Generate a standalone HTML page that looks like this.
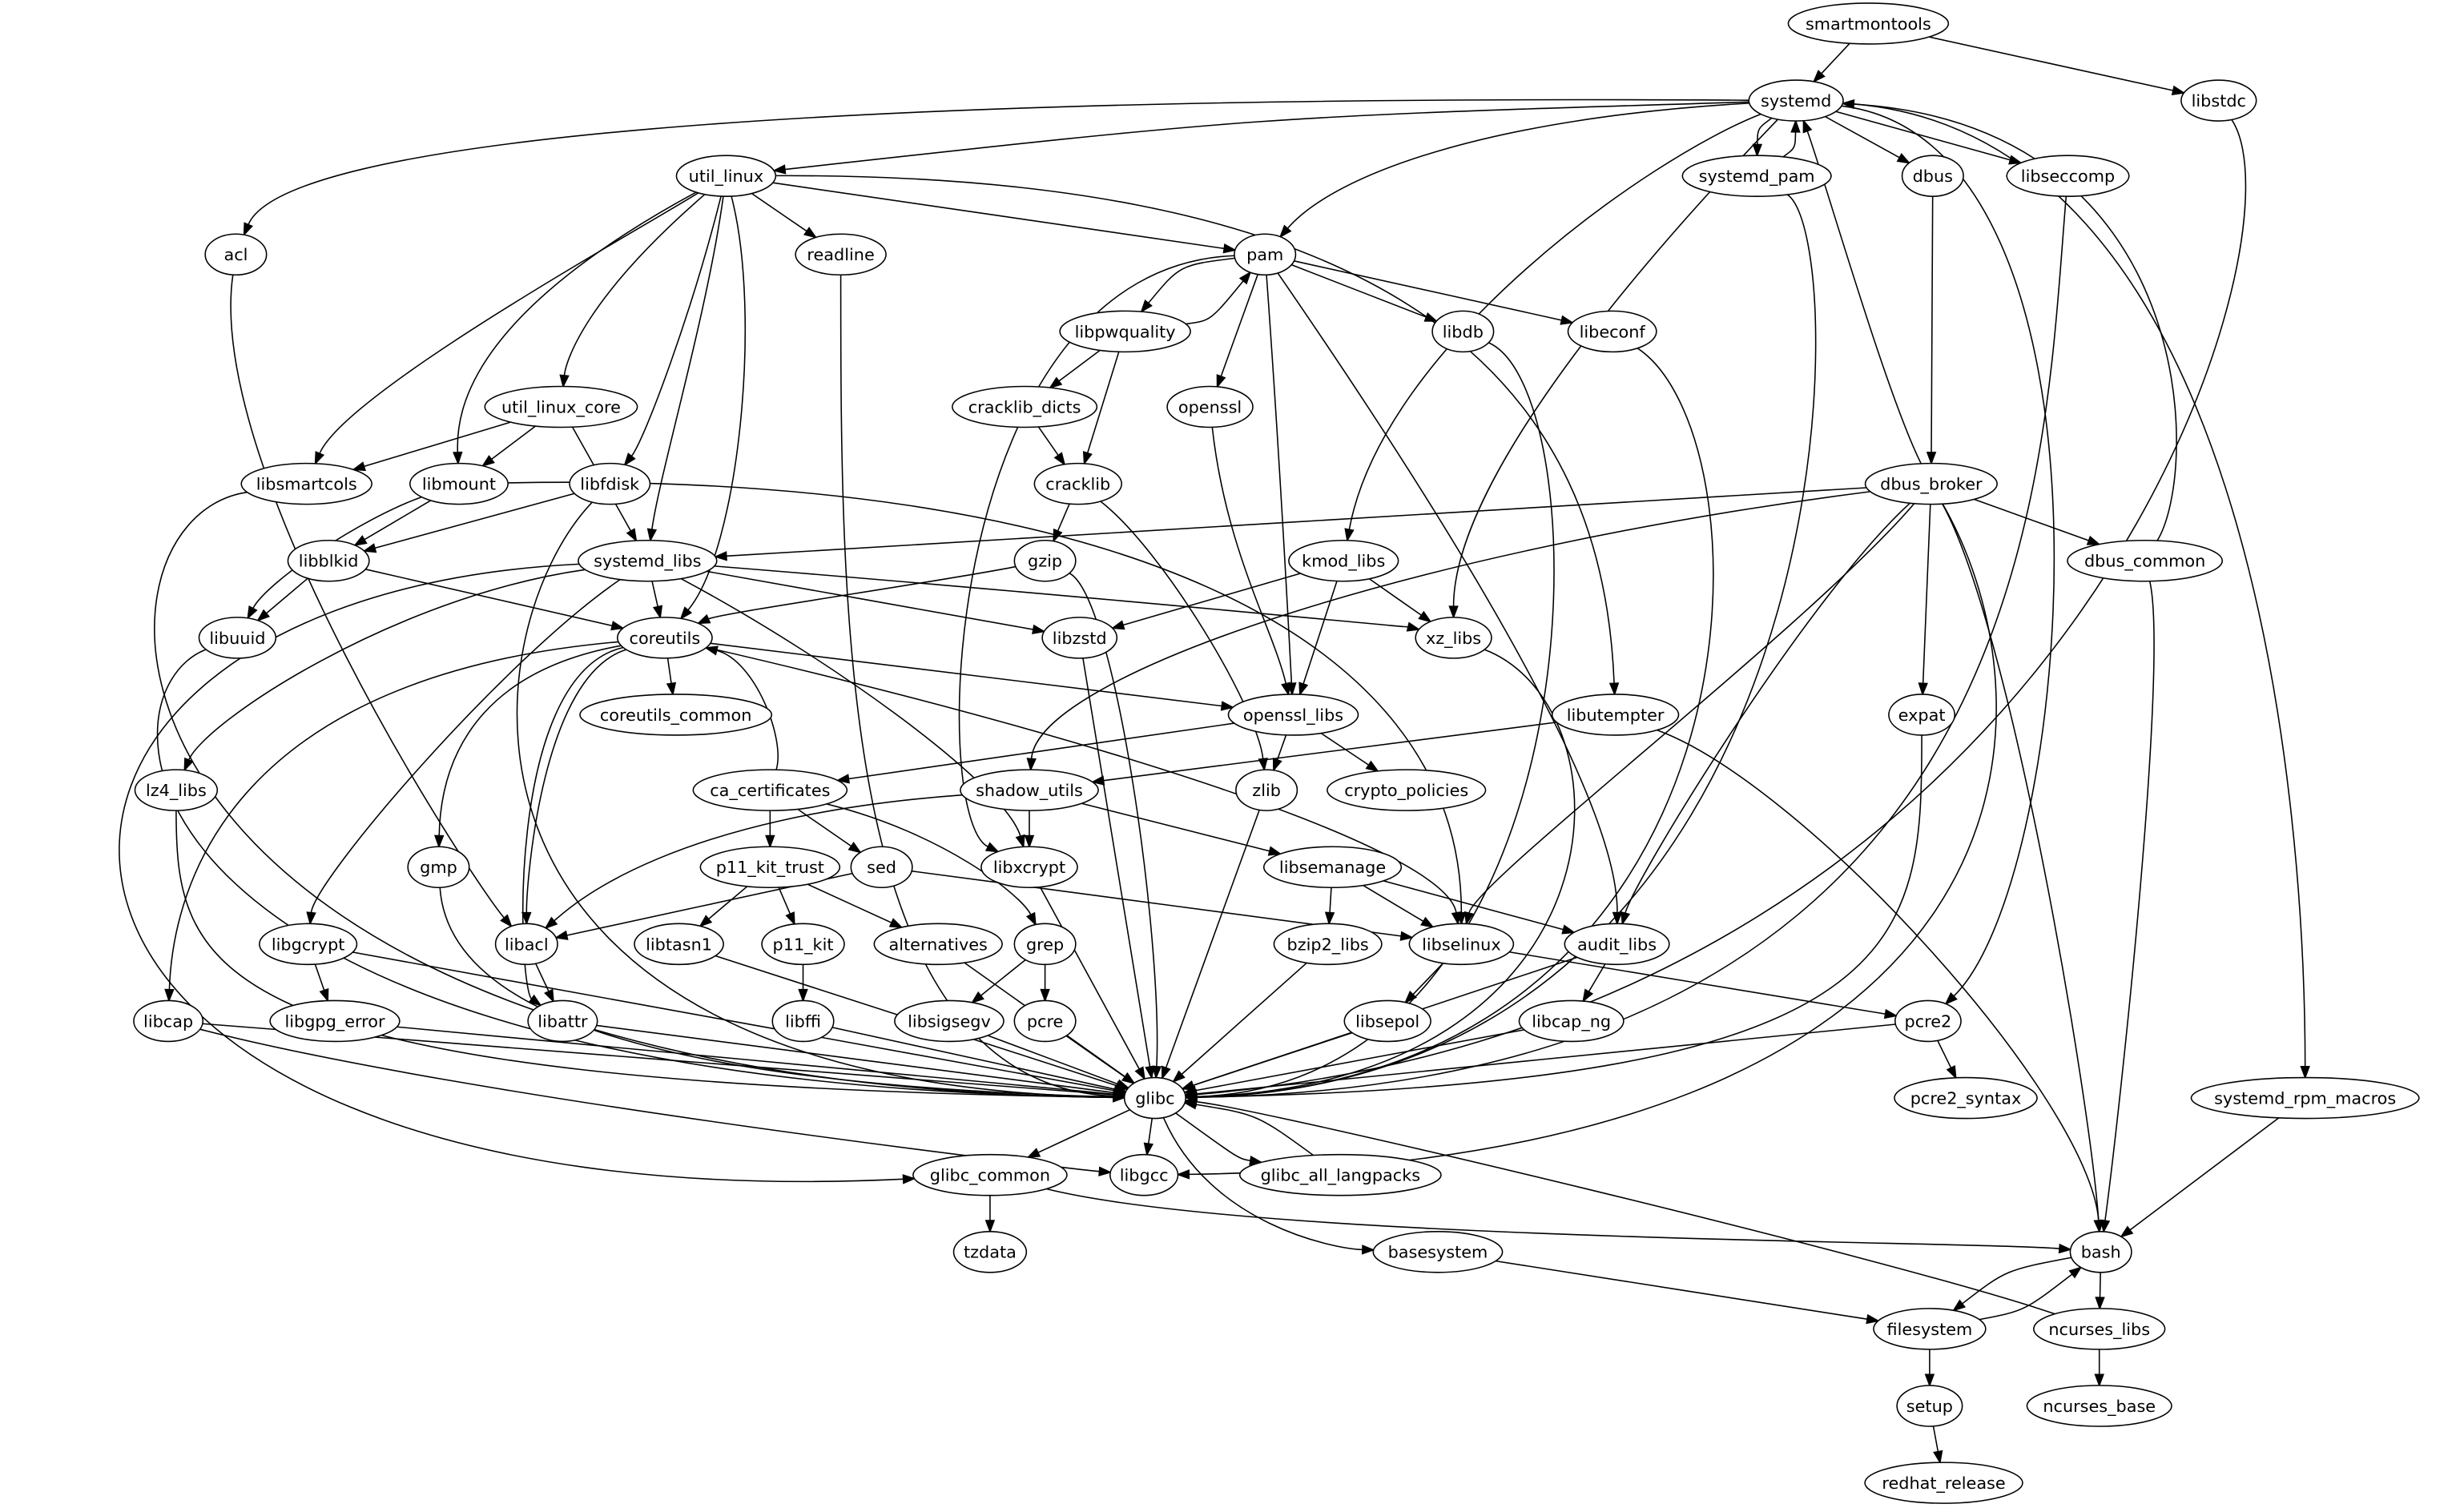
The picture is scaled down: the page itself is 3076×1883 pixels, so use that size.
<!DOCTYPE html>
<html><head><meta charset="utf-8"><style>
html,body{margin:0;padding:0;background:#fff;}
svg{display:block;}
text{font-family:"DejaVu Sans","Liberation Sans",sans-serif;font-size:10.6px;}
</style></head><body>
<svg id="g" xmlns="http://www.w3.org/2000/svg" width="3076" height="1883" viewBox="0 0 1568 960">
<rect width="1568" height="960" fill="#fff"/>
<g id="edges" fill="none" stroke="#000" stroke-width="0.8"></g>
<g id="arrows" fill="#000" stroke="#000" stroke-width="0.8"></g>
<g id="nodes"></g>
</svg>
<script>
var N={
smartmontools:[1189,15],systemd:[1143,64],libstdc:[1412,64],util_linux:[462,112],systemd_pam:[1118,112],dbus:[1230,112],libseccomp:[1316,112],
acl:[150,162],readline:[535,162],pam:[805,162],libpwquality:[716,211],libdb:[931,211],libeconf:[1026,211],openssl:[770,259],util_linux_core:[357,259],
cracklib_dicts:[652,259],cracklib:[686,308],libsmartcols:[195,308],libmount:[292,308],libfdisk:[388,308],dbus_broker:[1229,308],systemd_libs:[412,357],
libblkid:[209,357],gzip:[665,357],kmod_libs:[855,357],dbus_common:[1365,357],libuuid:[151,406],coreutils:[423,406],libzstd:[687,406],xz_libs:[925,406],
openssl_libs:[823,455],libutempter:[1028,455],expat:[1223,455],coreutils_common:[430,455],lz4_libs:[112,503],ca_certificates:[490,503],shadow_utils:[655,503],
zlib:[806,503],crypto_policies:[895,503],gmp:[279,552],sed:[561,552],p11_kit_trust:[490,552],libxcrypt:[655,552],libsemanage:[848,552],libgcrypt:[196,601],
libacl:[335,601],libtasn1:[432,601],p11_kit:[511,601],alternatives:[597,601],grep:[665,601],bzip2_libs:[845,601],libselinux:[930,601],audit_libs:[1029,601],
libcap:[107,650],libgpg_error:[213,650],libattr:[358,650],libffi:[511,650],libsigsegv:[604,650],pcre:[665,650],libsepol:[883,650],libcap_ng:[1000,650],
pcre2:[1227,650],glibc:[735,699],pcre2_syntax:[1251,699],systemd_rpm_macros:[1467,699],glibc_common:[630,748],libgcc:[728,748],glibc_all_langpacks:[853,748],
tzdata:[630,797],basesystem:[915,797],bash:[1337,797],filesystem:[1228,846],ncurses_libs:[1336,846],setup:[1228,895],ncurses_base:[1336,895],redhat_release:[1237,944]};
var E=[
"smartmontools systemd","smartmontools libstdc",
"systemd acl C 500 60 180 90","systemd util_linux B 0.02","systemd systemd_pam B 0.25","systemd_pam systemd B 0.25","systemd dbus","systemd libseccomp",
"systemd pam C 950 75 850 110","systemd kmod_libs C 1050 100 880 220","systemd xz_libs C 1060 150 925 300","systemd pcre2 C 1360 90 1320 560","systemd systemd_rpm_macros C 1430 80 1467 500",
"libstdc glibc C 1470 150 1320 650","dbus_broker systemd C 1200 250 1160 110","dbus_common systemd C 1400 300 1400 80",
"util_linux readline","util_linux pam","util_linux libutempter C 900 110 1020 250","util_linux util_linux_core C 372 190 360 230","util_linux libsmartcols C 400 150 220 250","util_linux libmount C 300 200 290 260","util_linux libfdisk C 440 200 410 280","util_linux systemd_libs C 450 200 420 300","util_linux coreutils C 485 200 470 350",
"systemd_pam glibc C 1180 150 1180 690","dbus dbus_broker","libseccomp glibc C 1300 300 1300 690","acl libacl C 130 300 300 560","readline glibc C 535 400 535 690",
"pam libpwquality B 0.2","libpwquality pam B 0.2","pam libdb","pam libeconf","pam openssl","pam openssl_libs C 815 300 820 400","pam audit_libs C 900 300 1030 500","pam libxcrypt C 600 170 590 520",
"libpwquality cracklib_dicts","libpwquality cracklib","libdb glibc C 1020 250 1020 690","libeconf glibc C 1130 280 1130 690","openssl openssl_libs C 780 350 810 400",
"util_linux_core libsmartcols","util_linux_core libmount","util_linux_core systemd_libs","cracklib_dicts cracklib","cracklib gzip","cracklib zlib C 740 350 800 450",
"libsmartcols glibc C 40 330 40 690","libmount libblkid","libmount libuuid C 230 330 170 370","libmount libselinux C 700 300 930 400","libfdisk libblkid","libfdisk glibc C 300 400 260 690",
"dbus_broker systemd_libs","dbus_broker shadow_utils C 900 350 660 430","dbus_broker libselinux C 1150 400 940 560","dbus_broker audit_libs C 1150 380 1040 560","dbus_broker expat","dbus_broker dbus_common","dbus_broker bash C 1280 400 1330 700","dbus_broker libgcc C 1310 450 1310 740",
"systemd_libs coreutils","systemd_libs libzstd","systemd_libs xz_libs C 700 380 900 400","systemd_libs lz4_libs C 250 380 130 460","systemd_libs libgcrypt C 320 420 200 560","systemd_libs libxcrypt C 530 420 640 500","systemd_libs glibc_common C -60 380 -40 780",
"libblkid libuuid","libblkid coreutils","gzip coreutils C 600 370 460 390","gzip glibc C 710 380 740 600","kmod_libs libzstd","kmod_libs xz_libs","kmod_libs openssl_libs","dbus_common bash C 1380 420 1350 700","libuuid glibc C 60 440 60 690",
"coreutils coreutils_common","coreutils openssl_libs","coreutils libcap C 150 430 110 560","coreutils gmp C 290 430 280 500","coreutils libacl C 345 430 335 560","coreutils libattr C 320 430 330 630","coreutils libselinux C 700 470 920 540","ca_certificates coreutils C 500 470 480 420",
"libzstd glibc","xz_libs glibc C 1040 450 1040 690","openssl_libs ca_certificates","openssl_libs zlib","openssl_libs crypto_policies","libutempter shadow_utils","libutempter bash C 1150 500 1330 700","expat glibc C 1223 600 1220 690","lz4_libs glibc C 112 620 130 690",
"ca_certificates p11_kit_trust","ca_certificates sed","ca_certificates grep C 600 530 650 570","shadow_utils libxcrypt","shadow_utils libacl C 420 520 360 580","shadow_utils libsemanage","zlib glibc","gmp glibc C 285 640 400 690","sed libacl","sed libselinux",
"p11_kit_trust libtasn1","p11_kit_trust p11_kit","p11_kit_trust alternatives","libxcrypt glibc","libsemanage bzip2_libs","libsemanage libselinux","libsemanage audit_libs",
"libgcrypt libgpg_error","libgcrypt glibc","libacl libattr","libtasn1 glibc","p11_kit libffi","alternatives glibc","grep libsigsegv","grep pcre","bzip2_libs glibc","libselinux libsepol","libselinux pcre2",
"audit_libs libcap_ng","audit_libs glibc","libcap glibc","libcap libgcc C 300 700 690 745","libgpg_error glibc","libattr glibc","libffi glibc","libsigsegv glibc","pcre glibc","libsepol glibc","libcap_ng glibc","pcre2 glibc","pcre2 pcre2_syntax",
"glibc glibc_common","glibc libgcc","glibc glibc_all_langpacks B 0.12","glibc_all_langpacks glibc B 0.12","glibc basesystem C 770 780 850 795","systemd_rpm_macros bash","glibc_common tzdata","glibc_common bash C 800 790 1250 790",
"basesystem filesystem","bash filesystem B 0.12","filesystem bash B 0.12","bash ncurses_libs","ncurses_libs glibc C 1200 800 800 705","ncurses_libs ncurses_base","filesystem setup","setup redhat_release"];
var NS="http://www.w3.org/2000/svg",R={};
var ng=document.getElementById("nodes");
for(var k in N){var t=document.createElementNS(NS,"text");t.setAttribute("x",N[k][0]);t.setAttribute("y",N[k][1]+3.8);t.setAttribute("text-anchor","middle");t.textContent=k;
var e=document.createElementNS(NS,"ellipse");e.setAttribute("cx",N[k][0]);e.setAttribute("cy",N[k][1]);e.setAttribute("ry",13);e.setAttribute("fill","#fff");e.setAttribute("stroke","#000");e.setAttribute("stroke-width","0.8");
ng.appendChild(e);ng.appendChild(t);var w=t.getComputedTextLength();var rx=Math.max(19.5,w/2*1.2+3);e.setAttribute("rx",rx);R[k]=rx;}
function bnd(n,px,py){var c=N[n],dx=px-c[0],dy=py-c[1];var s=1/Math.sqrt((dx/R[n])*(dx/R[n])+(dy/13)*(dy/13));return [c[0]+dx*s,c[1]+dy*s];}
var eg=document.getElementById("edges"),ag=document.getElementById("arrows");
E.forEach(function(s){var p=s.split(" "),a=p[0],b=p[1],A=N[a],B=N[b];var c1,c2;
if(p[2]=="C"){c1=[+p[3],+p[4]];c2=[+p[5],+p[6]];}
else{var bend=p[2]=="B"?parseFloat(p[3]):0;var mx=(A[0]+B[0])/2,my=(A[1]+B[1])/2,dx=B[0]-A[0],dy=B[1]-A[1];c1=c2=[mx-dy*bend,my+dx*bend];}
var S=bnd(a,c1[0],c1[1]),T=bnd(b,c2[0],c2[1]);var ux=T[0]-c2[0],uy=T[1]-c2[1],L=Math.sqrt(ux*ux+uy*uy);ux/=L;uy/=L;var al=7,aw=2.6;var ex=T[0]-ux*al,ey=T[1]-uy*al;
var path=document.createElementNS(NS,"path");path.setAttribute("d","M"+S[0]+","+S[1]+" C"+c1[0]+","+c1[1]+" "+c2[0]+","+c2[1]+" "+ex+","+ey);eg.appendChild(path);
var pl=document.createElementNS(NS,"polygon");pl.setAttribute("points",T[0]+","+T[1]+" "+(ex-uy*aw)+","+(ey+ux*aw)+" "+(ex+uy*aw)+","+(ey-ux*aw));ag.appendChild(pl);});
</script>
</body></html>
